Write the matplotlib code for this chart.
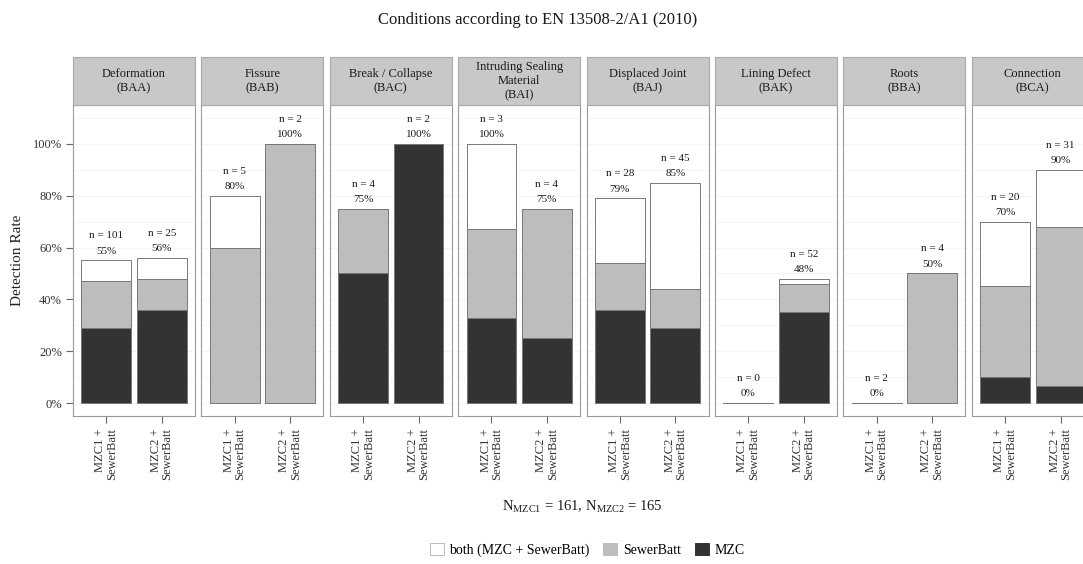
import matplotlib
matplotlib.use("Agg")
import matplotlib.pyplot as plt
from matplotlib.patches import Patch
import numpy as np

plt.rcParams['font.family'] = ['Liberation Serif', 'DejaVu Serif']
plt.rcParams['mathtext.fontset'] = 'custom'
plt.rcParams['mathtext.rm'] = 'Liberation Serif'

# defect classes (EN 13508-2 codes)
categories = ["Deformation\n(BAA)", "Fissure\n(BAB)", "Break / Collapse\n(BAC)",
              "Intruding Sealing\nMaterial\n(BAI)", "Displaced Joint\n(BAJ)",
              "Lining Defect\n(BAK)", "Roots\n(BBA)", "Connection\n(BCA)"]
groups = ["MZC1 +\nSewerBatt", "MZC2 +\nSewerBatt"]

# sample counts per class
n_mzc1 = [101, 5, 4, 3, 28, 0, 2, 20]
n_mzc2 = [25, 2, 2, 4, 45, 52, 4, 31]

# overall detection rate in % (MZC or SewerBatt)
total_mzc1 = [55, 80, 75, 100, 79, 0, 0, 70]
total_mzc2 = [56, 100, 100, 75, 85, 48, 50, 90]

# detected by MZC only
mzc_mzc1 = [29, 0, 50, 33, 36, 0, 0, 10]
mzc_mzc2 = [36, 0, 100, 25, 29, 35, 0, 6.5]

# detected by SewerBatt only
sb_mzc1 = [18, 60, 25, 34, 18, 0, 0, 35]
sb_mzc2 = [12, 100, 0, 50, 15, 11, 50, 61.5]

C_MZC = '#333333'
C_SB = '#bdbdbd'
C_BOTH = '#ffffff'
EDGE = '#777777'

W, H = 1083, 564
fig = plt.figure(figsize=(W / 100, H / 100), dpi=100)

left0, pitch, pw = 73, 128.4, 122
strip_top, strip_bot, panel_bot = 57, 105, 416

for i, cat in enumerate(categories):
    x0 = (left0 + i * pitch) / W
    ax = fig.add_axes([x0, 1 - panel_bot / H, pw / W, (panel_bot - strip_bot) / H])
    st = fig.add_axes([x0, 1 - strip_bot / H, pw / W, (strip_bot - strip_top) / H])

    st.set_facecolor('#c8c8c8')
    st.set_xticks([])
    st.set_yticks([])
    for s in st.spines.values():
        s.set_color('#aaaaaa')
        s.set_linewidth(0.8)
    st.text(0.5, 0.5, cat, ha='center', va='center', fontsize=9,
            color='#1a1a1a', linespacing=1.25, transform=st.transAxes)

    ns = [n_mzc1[i], n_mzc2[i]]
    tot = np.array([total_mzc1[i], total_mzc2[i]], dtype=float)
    mzc = np.array([mzc_mzc1[i], mzc_mzc2[i]], dtype=float)
    sb = np.array([sb_mzc1[i], sb_mzc2[i]], dtype=float)
    both = tot - mzc - sb
    pos = np.arange(1, 3)

    for y in range(0, 111, 10):
        ax.axhline(y, color='#f2f2f2', lw=0.6, zorder=0)

    ax.bar(pos, mzc, width=0.9, color=C_MZC, edgecolor=EDGE, lw=0.7, zorder=2)
    ax.bar(pos, sb, width=0.9, bottom=mzc, color=C_SB, edgecolor=EDGE, lw=0.7, zorder=2)
    ax.bar(pos, both, width=0.9, bottom=mzc + sb, color=C_BOTH, edgecolor=EDGE, lw=0.7, zorder=2)

    for p, t, n in zip(pos, tot, ns):
        ax.text(p, t + 3.5, f"{t:.0f}%", ha='center', va='center', fontsize=8, color='#1a1a1a')
        ax.text(p, t + 9.5, f"n = {n}", ha='center', va='center', fontsize=8, color='#1a1a1a')

    ax.set_xlim(0.4, 2.6)
    ax.set_ylim(-5, 115)
    ax.set_xticks(pos)
    ax.set_xticklabels(groups, rotation=90, ha='center', va='top',
                       multialignment='right', fontsize=9, color='#333333',
                       linespacing=0.95)
    ax.tick_params(axis='x', length=5, color='#666666', pad=4)
    if i == 0:
        ax.set_yticks([0, 20, 40, 60, 80, 100])
        ax.set_yticklabels([f"{v}%" for v in [0, 20, 40, 60, 80, 100]],
                           fontsize=9, color='#333333')
        ax.tick_params(axis='y', length=5, color='#666666', pad=3)
        ax.set_ylabel("Detection Rate", fontsize=11, color='#222222', labelpad=6)
    else:
        ax.set_yticks([])
    for s in ax.spines.values():
        s.set_color('#999999')
        s.set_linewidth(0.8)

fig.text(0.496, 0.965, "Conditions according to EN 13508-2/A1 (2010)",
         ha='center', va='center', fontsize=12, color='#1a1a1a')
fig.text(0.538, 0.101, r"N$_{\mathrm{MZC1}}$ = 161, N$_{\mathrm{MZC2}}$ = 165",
         ha='center', va='center', fontsize=10.5, color='#1a1a1a')

handles = [Patch(facecolor=C_BOTH, edgecolor='#bbbbbb', lw=0.7),
           Patch(facecolor=C_SB, edgecolor=C_SB, lw=0.7),
           Patch(facecolor=C_MZC, edgecolor=C_MZC, lw=0.7)]
fig.legend(handles, ["both (MZC + SewerBatt)", "SewerBatt", "MZC"],
           loc='center', bbox_to_anchor=(0.542, 0.025), ncol=3, frameon=False,
           fontsize=10, handlelength=1.0, handleheight=1.0, handletextpad=0.4,
           columnspacing=1.0)

fig.savefig("out.png", dpi=100)
